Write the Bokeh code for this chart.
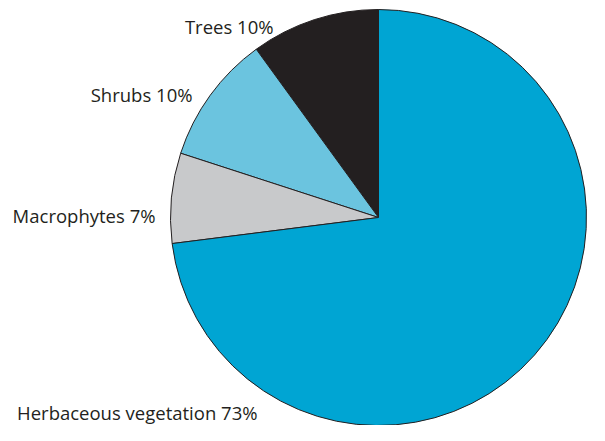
import math
from bokeh.plotting import figure
from bokeh.models import ColumnDataSource, Range1d
from bokeh.core.properties import value
from bokeh.embed import file_html
from bokeh.resources import INLINE

categories = ["Trees", "Shrubs", "Macrophytes", "Herbaceous vegetation"]
percents = [10, 10, 7, 73]
colors = ["#231f20", "#6bc4df", "#c8c9cb", "#00a5d3"]

W, H = 589, 425
p = figure(width=W, height=H, output_backend="svg", toolbar_location=None,
           x_range=Range1d(0, W), y_range=Range1d(0, H), min_border=0,
           outline_line_color=None)
p.axis.visible = False
p.grid.visible = False
p.background_fill_color = "white"
p.border_fill_color = "white"

cx, cy, R = 378, H - 217, 208
total = sum(percents)
starts, ends = [], []
a = math.pi / 2
for v in percents:
    starts.append(a)
    a += 2 * math.pi * v / total
    ends.append(a)

src = ColumnDataSource(dict(start=starts, end=ends, color=colors, cat=categories))
p.wedge(x=cx, y=cy, radius=R, start_angle="start", end_angle="end",
        fill_color="color", line_color="#231f20", line_width=1, source=src)

labels = [f"{c} {v}%" for c, v in zip(categories, percents)]
# label anchors (right end, baseline) in plot units
lab_x = [273, 192, 155, 257]
lab_y = [H - 26, H - 94, H - 215, H - 412]
p.text(x=lab_x, y=lab_y, text=labels, text_align="right", text_baseline="alphabetic",
       text_font=value("Open Sans"), text_font_size="18.5px", text_color="#231f20")

open("out.html", "w").write(file_html(p, INLINE))
